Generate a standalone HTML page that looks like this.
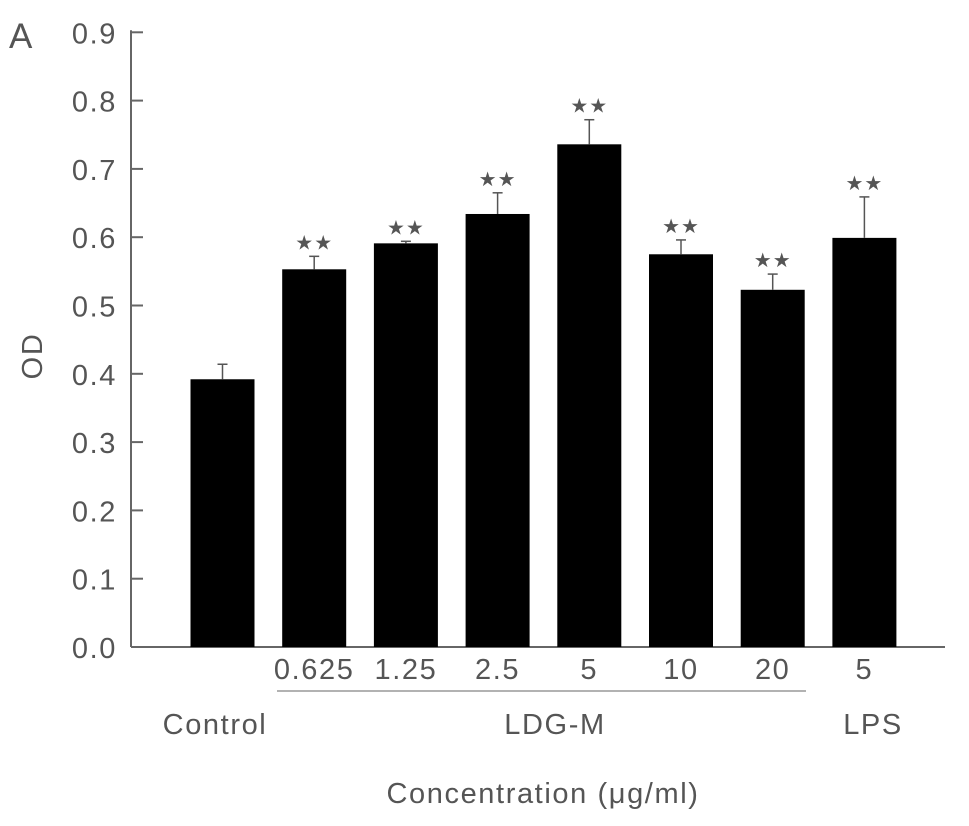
<!DOCTYPE html>
<html><head><meta charset="utf-8"><style>
html,body{margin:0;padding:0;background:#fff;}
svg text{font-family:"Liberation Sans",Arial,sans-serif;fill:#555;}
.lbl{font-size:29px;letter-spacing:1.6px;}
</style></head><body>
<svg id="chart" width="969" height="821" viewBox="0 0 969 821" xmlns="http://www.w3.org/2000/svg">
<text x="9" y="48" font-size="35">A</text>
<text class="lbl" transform="translate(42,356) rotate(-90)" text-anchor="middle">OD</text>
<g id="yaxis"></g>
<g id="bars"></g>
<g id="xlabels"></g>
<line x1="277" y1="691" x2="806" y2="691" stroke="#999" stroke-width="1.5"/>
<text class="lbl" x="215" y="734" text-anchor="middle">Control</text>
<text class="lbl" x="555" y="734" text-anchor="middle">LDG-M</text>
<text class="lbl" x="873" y="734" text-anchor="middle">LPS</text>
<text class="lbl" x="543" y="803" text-anchor="middle">Concentration (μg/ml)</text>
</svg>
<script>
const categories = ["", "0.625", "1.25", "2.5", "5", "10", "20", "5"];
const values = [0.392, 0.553, 0.591, 0.634, 0.736, 0.575, 0.523, 0.599];
const errors = [0.022, 0.019, 0.003, 0.031, 0.036, 0.021, 0.023, 0.060];
const significance = ["", "**", "**", "**", "**", "**", "**", "**"];
const yTicks = [0, 0.1, 0.2, 0.3, 0.4, 0.5, 0.6, 0.7, 0.8, 0.9];
const yTickLabels = ["0.0","0.1","0.2","0.3","0.4","0.5","0.6","0.7","0.8","0.9"];

const NS = "http://www.w3.org/2000/svg";
const x0 = 131, y0 = 647, pxPerUnit = 683;
const firstCenter = 222.5, step = 91.7, barW = 64;
function yScale(v){ return y0 - v * pxPerUnit; }
function xScale(i){ return firstCenter + i * step; }
function mk(tag, attrs, parent){
  const e = document.createElementNS(NS, tag);
  for (const k in attrs) e.setAttribute(k, attrs[k]);
  parent.appendChild(e);
  return e;
}
const yaxis = document.getElementById('yaxis');
const bars = document.getElementById('bars');
const xl = document.getElementById('xlabels');

const yl = mk('line', {x1:x0, y1:yScale(0.9)-2, x2:x0, y2:y0, stroke:'#666', 'stroke-width':2}, yaxis);


const xa = mk('line', {x1:x0, y1:y0, x2:945, y2:y0, stroke:'#666', 'stroke-width':2}, yaxis);



yTicks.forEach((t, i) => {
  const y = yScale(t);
  if (t > 0) {
    const tk = mk('line', {x1:x0, y1:y, x2:x0+12, y2:y, stroke:'#666', 'stroke-width':2}, yaxis);
    
    
  }
  const tx = mk('text', {x:117, y:y+11, 'text-anchor':'end', class:'lbl'}, yaxis);
  tx.textContent = yTickLabels[i];
  
  
});

values.forEach((v, i) => {
  const cx = xScale(i);
  const top = yScale(v);
  const r = mk('rect', {x:cx-barW/2, y:top, width:barW, height:y0-top, fill:'#000'}, bars);
  
  
  const et = yScale(v + errors[i]);
  const el = mk('line', {x1:cx, y1:top, x2:cx, y2:et, stroke:'#555', 'stroke-width':1.5}, bars);
  
  
  const cap = mk('line', {x1:cx-5, y1:et, x2:cx+5, y2:et, stroke:'#555', 'stroke-width':1.5}, bars);
  
  
  if (significance[i]) {
    const s = mk('text', {x:cx, y:et-7, 'text-anchor':'middle', 'font-size':20, 'letter-spacing':1, fill:'#333'}, bars);
    s.textContent = '\u2605\u2605';
    
    
  }
  if (categories[i]) {
    const t = mk('text', {x:cx, y:679, 'text-anchor':'middle', class:'lbl'}, xl);
    t.textContent = categories[i];
    
    
  }
});
</script>
</body></html>
